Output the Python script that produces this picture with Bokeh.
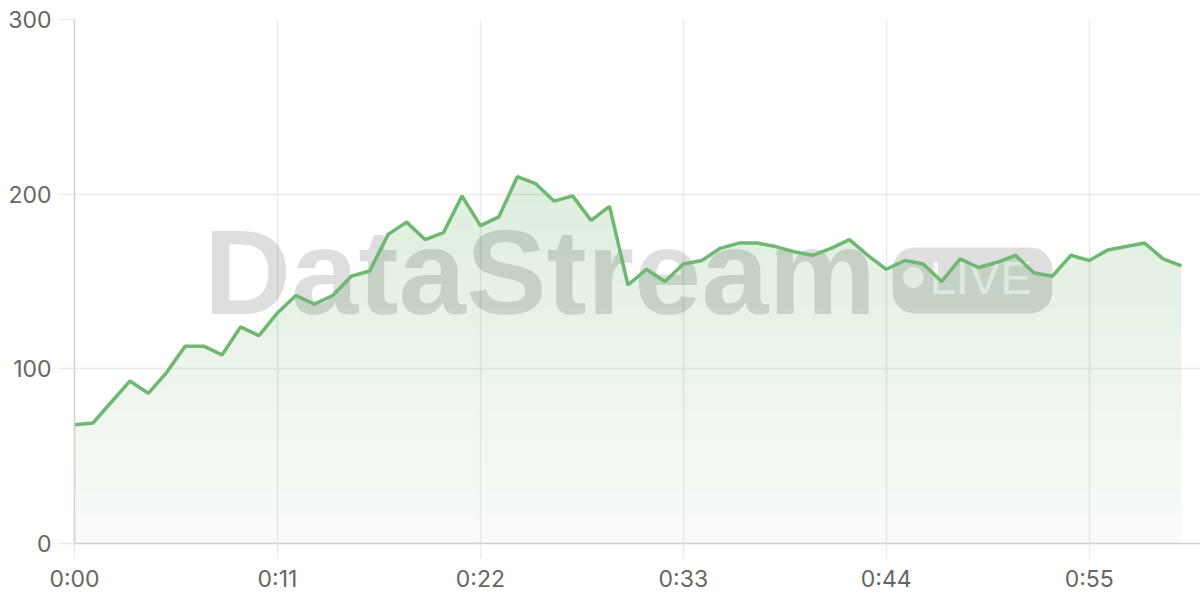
import numpy as np
from bokeh.plotting import figure
from bokeh.models import Range1d, FixedTicker, Label, BoxAnnotation
from bokeh.embed import file_html
from bokeh.resources import INLINE

# ---- data ----
seconds = list(range(61))
values = [68, 69, 81, 93, 86, 98, 113, 113, 108, 124, 119, 132, 142, 137, 142,
          153, 156, 177, 184, 174, 178,
          199, 182, 187, 210, 206, 196, 199, 185, 193, 148, 157, 150, 160, 162,
          169, 172, 172, 170, 167, 165,
          169, 174, 165, 157, 162, 160, 150, 163, 158, 161, 165, 155, 153, 165,
          162, 168, 170, 172, 163, 159]
x_ticks = [0, 11, 22, 33, 44, 55]
y_ticks = [0, 100, 200, 300]
x_tick_labels = {t: f"{t // 60}:{t % 60:02d}" for t in x_ticks}

watermark_text = "DataStream"
badge_text = "LIVE"

GREEN = "#6fb872"
GRID = "#ebebeb"
AXIS = "#d0d0d0"
LABEL = "#666666"
FONT = "Inter"

p = figure(width=1200, height=600, output_backend="svg", toolbar_location=None,
           x_range=Range1d(0, 61.03), y_range=Range1d(0, 300),
           min_border_left=74, min_border_right=0, min_border_top=19,
           min_border_bottom=57)
p.outline_line_color = None
p.background_fill_color = "white"
p.border_fill_color = "white"

# grids
p.xgrid.ticker = FixedTicker(ticks=x_ticks)
p.ygrid.ticker = FixedTicker(ticks=y_ticks)
p.xgrid.grid_line_color = GRID
p.ygrid.grid_line_color = GRID
p.xgrid.grid_line_width = 1.5
p.ygrid.grid_line_width = 1.5

# axes
for ax in (p.xaxis[0], p.yaxis[0]):
    ax.axis_line_color = AXIS
    ax.axis_line_width = 1.5
    ax.major_tick_line_color = GRID
    ax.major_tick_line_width = 1.5
    ax.minor_tick_line_color = None
    ax.major_tick_in = 0
    ax.major_label_text_font = FONT
    ax.major_label_text_font_size = "23px"
    ax.major_label_text_color = LABEL
p.xaxis.ticker = FixedTicker(ticks=x_ticks)
p.xaxis.major_label_overrides = x_tick_labels
p.xaxis.major_tick_out = 15
p.xaxis.major_label_standoff = 6
p.yaxis.ticker = FixedTicker(ticks=y_ticks)
p.yaxis.major_tick_out = 16
p.yaxis.major_label_standoff = 7

# watermark (decoration)
wm = Label(x=7.0, y=155.7, text=watermark_text, text_font="Liberation Sans",
           text_font_style="bold", text_font_size="121px", text_color="black",
           text_alpha=0.13, text_baseline="alphabetic", text_align="left",
           level="underlay")
p.add_layout(wm)
pill = BoxAnnotation(left=44.34, right=53.0, bottom=131.7, top=169.5,
                     fill_color="black", fill_alpha=0.13, line_color=None,
                     border_radius=22, level="underlay")
p.add_layout(pill)
live = Label(x=46.35, y=152.3, text=badge_text, text_font="Liberation Sans",
             text_font_size="47px", text_color="white", text_alpha=0.8,
             text_baseline="alphabetic", text_align="left", level="underlay")
p.add_layout(live)
p.scatter([45.47], [152.3], size=20, color="white", alpha=0.8)

# area with vertical gradient (layered bands)
vals = np.array(values, dtype=float)
p.varea(x=seconds, y1=0, y2=vals, fill_color=GREEN, fill_alpha=0.05)
for lvl in np.linspace(15, 210, 14):
    p.varea(x=seconds, y1=np.minimum(vals, lvl), y2=vals,
            fill_color=GREEN, fill_alpha=0.0115)

p.line(seconds, values, line_color=GREEN, line_width=3.5)

open("out.html", "w").write(file_html(p, INLINE))
